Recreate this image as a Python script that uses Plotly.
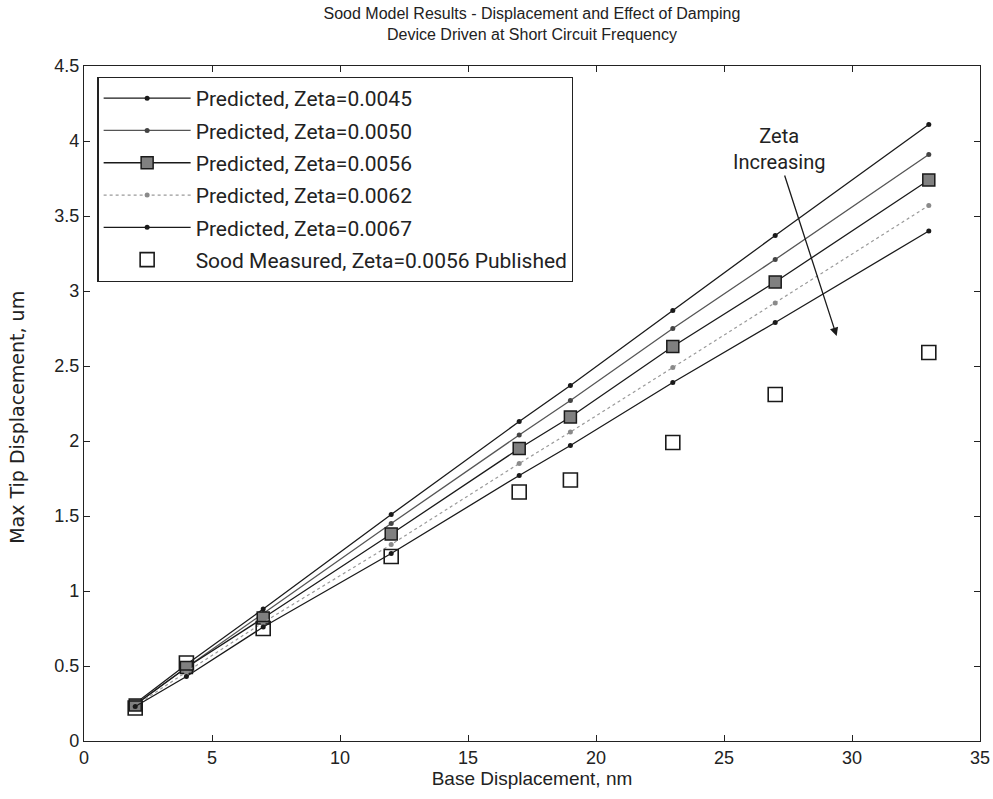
import plotly.graph_objects as go

# Base displacement (nm) at which the model was evaluated / measured
base_nm = [2, 4, 7, 12, 17, 19, 23, 27, 33]

# Predicted max tip displacement (um) for each damping ratio
pred_0045 = [0.25, 0.51, 0.88, 1.51, 2.13, 2.37, 2.87, 3.37, 4.11]
pred_0050 = [0.245, 0.49, 0.85, 1.45, 2.04, 2.27, 2.75, 3.21, 3.91]
pred_0056 = [0.24, 0.49, 0.82, 1.38, 1.95, 2.16, 2.63, 3.06, 3.74]
pred_0062 = [0.235, 0.46, 0.79, 1.31, 1.85, 2.06, 2.49, 2.92, 3.57]
pred_0067 = [0.23, 0.43, 0.76, 1.25, 1.77, 1.97, 2.39, 2.79, 3.40]

# Published measurements
measured = [0.22, 0.52, 0.75, 1.23, 1.66, 1.74, 1.99, 2.31, 2.59]

names = [
    "Predicted, Zeta=0.0045",
    "Predicted, Zeta=0.0050",
    "Predicted, Zeta=0.0056",
    "Predicted, Zeta=0.0062",
    "Predicted, Zeta=0.0067",
    "Sood Measured, Zeta=0.0056 Published",
]

NARROW = "Liberation Sans Narrow, Arial Narrow, Liberation Sans, Arial, sans-serif"
REGULAR = "Roboto, Liberation Sans, Arial, sans-serif"
WIDE = "DejaVu Sans, Verdana, sans-serif"
INK = "#222222"

fig = go.Figure()

styles = [
    (pred_0045, dict(color="#1a1a1a", width=1.3, dash="solid"), dict(symbol="circle", size=5, color="#1a1a1a")),
    (pred_0050, dict(color="#555555", width=1.3, dash="solid"), dict(symbol="circle", size=5, color="#444444")),
    (pred_0056, dict(color="#1a1a1a", width=1.3, dash="solid"),
     dict(symbol="square", size=12, color="#808080", line=dict(color="#1a1a1a", width=1.5))),
    (pred_0062, dict(color="#9a9a9a", width=1.2, dash="dot"), dict(symbol="circle", size=5, color="#8a8a8a")),
    (pred_0067, dict(color="#1a1a1a", width=1.3, dash="solid"), dict(symbol="circle", size=5, color="#1a1a1a")),
]

for i, (ys, ln, mk) in enumerate(styles):
    fig.add_trace(go.Scatter(
        x=base_nm, y=ys, mode="lines+markers", name=names[i],
        line=ln, marker=mk, legendgroup=f"g{i}",
    ))

fig.add_trace(go.Scatter(
    x=base_nm, y=measured, mode="markers", name=names[5],
    marker=dict(symbol="square-open", size=14, color="#1a1a1a", line=dict(width=1.6)),
    legendgroup="g5",
))

axis_common = dict(
    showline=True, linecolor=INK, linewidth=1.2, mirror="ticks",
    ticks="inside", ticklen=6, tickcolor=INK,
    showgrid=False, zeroline=False, automargin=False,
    tickfont=dict(family=NARROW, size=18, color=INK),
)

fig.update_xaxes(range=[0, 35], dtick=5, title=dict(text="Base Displacement, nm",
                 font=dict(family=NARROW, size=19, color=INK), standoff=4), **axis_common)
fig.update_yaxes(range=[0, 4.5], dtick=0.5, **axis_common)

# y-axis label
fig.add_annotation(x=-0.075, y=0.48, xref="paper", yref="paper", text="Max Tip Displacement, um",
                   textangle=-90, showarrow=False, xanchor="center", yanchor="middle",
                   font=dict(family=WIDE, size=19, color=INK))

# "Zeta Increasing" callout
fig.add_annotation(x=29.4, y=2.70, ax=27.35, ay=3.78, xref="x", yref="y", axref="x", ayref="y",
                   text="", showarrow=True, arrowhead=2, arrowsize=1.3, arrowwidth=1.3,
                   arrowcolor="#1a1a1a")
fig.add_annotation(x=27.15, y=3.95, xref="x", yref="y", text="Zeta<br>Increasing", showarrow=False,
                   font=dict(family=REGULAR, size=20, color=INK), align="center")

fig.update_layout(
    width=993, height=799,
    margin=dict(l=84, r=13, t=66, b=58, autoexpand=False),
    paper_bgcolor="white", plot_bgcolor="white",
    title=dict(text="Sood Model Results - Displacement and Effect of Damping<br>Device Driven at Short Circuit Frequency",
               x=0.5357, xanchor="center", y=0.976, yanchor="top",
               font=dict(family=NARROW, size=16, color=INK)),
    legend=dict(x=0.015, y=0.984, xanchor="left", yanchor="top",
                bgcolor="white", bordercolor=INK, borderwidth=1.2,
                font=dict(family=REGULAR, size=21, color=INK),
                itemwidth=87, tracegroupgap=2),
    showlegend=True,
)

fig.write_html("out.html")
